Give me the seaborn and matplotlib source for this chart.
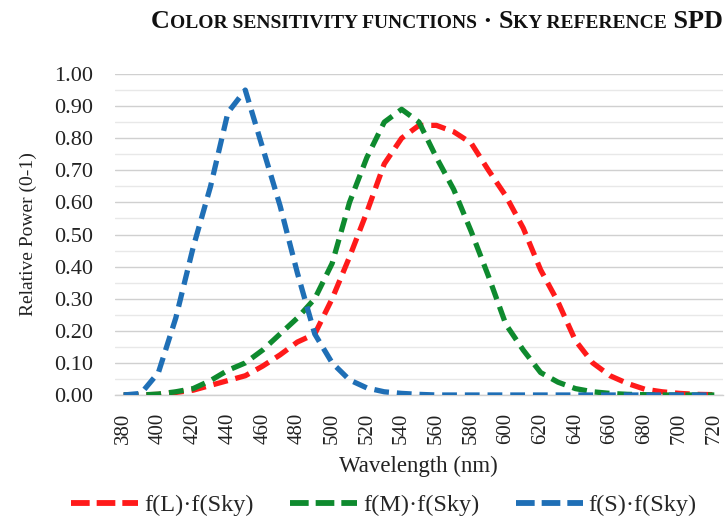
import numpy as np
import pandas as pd
import matplotlib
matplotlib.use("Agg")
import matplotlib.pyplot as plt
import seaborn as sns
from matplotlib.lines import Line2D

# ---------------- data ----------------
wavelength = list(range(380, 721, 10))
f_L = [0, 0, 0.002, 0.008, 0.015, 0.03, 0.045, 0.06, 0.09, 0.125, 0.165, 0.19,
       0.30, 0.43, 0.57, 0.72, 0.80, 0.84, 0.84, 0.82, 0.785, 0.70, 0.62, 0.52,
       0.39, 0.29, 0.17, 0.10, 0.06, 0.036, 0.018, 0.01, 0.005, 0.002, 0.001]
f_M = [0, 0, 0.003, 0.01, 0.02, 0.045, 0.077, 0.10, 0.14, 0.19, 0.24, 0.30,
       0.41, 0.60, 0.74, 0.85, 0.89, 0.85, 0.74, 0.64, 0.51, 0.37, 0.22, 0.14,
       0.07, 0.04, 0.02, 0.01, 0.005, 0.002, 0.001, 0, 0, 0, 0]
f_S = [0, 0.005, 0.07, 0.24, 0.46, 0.65, 0.88, 0.95, 0.77, 0.59, 0.38, 0.19,
       0.10, 0.047, 0.022, 0.01, 0.005, 0.002, 0, 0, 0, 0, 0, 0,
       0, 0, 0, 0, 0, 0, 0, 0, 0, 0, 0]
series_names = ["f(L)·f(Sky)", "f(M)·f(Sky)", "f(S)·f(Sky)"]
colors = ["#FF1A1A", "#0E8A2E", "#1F6FB6"]
x_ticks = list(range(380, 721, 20))
y_ticks = [0.0, 0.1, 0.2, 0.3, 0.4, 0.5, 0.6, 0.7, 0.8, 0.9, 1.0]

df = pd.DataFrame({
    "Wavelength": wavelength * 3,
    "Value": f_L + f_M + f_S,
    "Series": sum([[n] * len(wavelength) for n in series_names], []),
})

# ---------------- style ----------------
sns.set_theme(style="white")
plt.rcParams["font.family"] = ["Liberation Serif", "DejaVu Serif"]

W, H = 726, 523
fig = plt.figure(figsize=(W / 100, H / 100), dpi=100)
ax = fig.add_axes([115 / W, 1 - 395 / H, (723 - 115) / W, (395 - 74) / H])

lw = 3.8
dash = (2.8, 1.5)
sns.lineplot(data=df, x="Wavelength", y="Value", hue="Series", style="Series",
             palette=dict(zip(series_names, colors)),
             dashes={n: dash for n in series_names},
             linewidth=lw, ax=ax, legend=False, zorder=3)
for ln in ax.lines:
    ln.set_dash_capstyle("butt")
    ln.set_solid_joinstyle("round")

ax.set_xlim(375, 725)
ax.set_ylim(0, 1.0)
ax.set_xticks(x_ticks)
ax.set_xticklabels([str(v) for v in x_ticks], rotation=90)
ax.set_yticks(y_ticks)
ax.set_yticklabels([f"{v:.2f}" for v in y_ticks])
ax.set_yticks(np.arange(0.05, 1.0, 0.1), minor=True)
ax.tick_params(axis="y", which="both", length=0, labelsize=16, pad=16,
               colors="#222222")
ax.tick_params(axis="x", which="both", length=0, labelsize=15, pad=13,
               colors="#222222")
ax.grid(True, axis="y", which="major", color="#d0d0d0", linewidth=1.0, zorder=0)
ax.grid(True, axis="y", which="minor", color="#e8e8e8", linewidth=1.0, zorder=0)
ax.grid(False, axis="x")
for s in ["top", "right", "left"]:
    ax.spines[s].set_visible(False)
ax.spines["bottom"].set_color("#d0d0d0")
ax.spines["bottom"].set_linewidth(1.0)
ax.spines["bottom"].set_zorder(0)

ax.set_xlabel("Wavelength (nm)", fontsize=16.5, color="#222222")
ax.set_ylabel("Relative Power (0-1)", fontsize=14, color="#222222")
ax.xaxis.set_label_coords((418 - 115) / 608, (395 - 456) / 321)
ax.yaxis.set_label_coords((37 - 115) / 608, 0.5)

# legend
handles = [Line2D([0], [0], color=c, lw=4.2, dashes=(3.2, 1.2), dash_capstyle="butt")
           for c in colors]
fig.legend(handles, series_names, loc="center", bbox_to_anchor=(384 / W, 1 - 505 / H),
           ncol=3, frameon=False, fontsize=17.5, handlelength=2.75,
           handletextpad=0.25, columnspacing=1.5)

# title with simulated small caps
pieces = [("C", 1), ("OLOR SENSITIVITY FUNCTIONS", 0), (" · ", 1), ("S", 1),
          ("KY REFERENCE", 0), (" SPD", 1)]
big, small = 18.8, 14.0
renderer = fig.canvas.get_renderer()
texts = []
x = 0.0
for s, isbig in pieces:
    t = fig.text(x, 1 - 28 / H, s, fontsize=big if isbig else small,
                 fontweight="bold", ha="left", va="baseline", color="#111111")
    bb = t.get_window_extent(renderer=renderer)
    x += bb.width / W
    texts.append(t)
total = x
x0 = (437 / W) - total / 2
for t in texts:
    px, py = t.get_position()
    t.set_position((px + x0, py))

fig.savefig("out.png", dpi=100)
